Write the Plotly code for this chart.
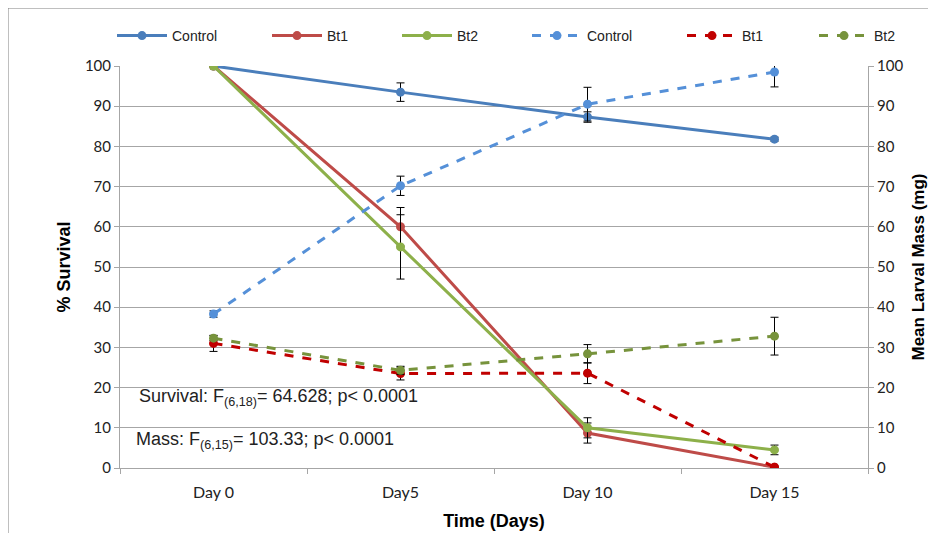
import plotly.graph_objects as go

days = ["Day 0", "Day5", "Day 10", "Day 15"]

surv_control = [100, 93.5, 87.3, 81.8]
surv_control_err = [0, 2.3, 1.3, 0.5]
surv_bt1 = [100, 60.0, 8.7, 0.2]
surv_bt1_err = [0, 4.8, 2.5, 0]
surv_bt2 = [100, 55.0, 10.0, 4.5]
surv_bt2_err = [0, 8.0, 2.5, 1.2]

mass_control = [38.3, 70.2, 90.5, 98.5]
mass_control_err = [0.8, 2.4, 4.2, 3.7]
mass_bt1 = [31.0, 23.5, 23.6, 0.2]
mass_bt1_err = [2.0, 1.6, 2.6, 0]
mass_bt2 = [32.3, 24.3, 28.4, 32.8]
mass_bt2_err = [0.6, 1.0, 2.3, 4.7]

fig = go.Figure()

def add(name, y, err, color, dash, axis, legend):
    fig.add_trace(go.Scatter(
        x=days, y=y, name=name, yaxis=axis, legend=legend,
        mode="lines+markers",
        line=dict(color=color, width=3, dash=dash),
        marker=dict(color=color, size=9),
        error_y=dict(type="data", array=err, visible=True,
                     color="black", thickness=1, width=4),
    ))

add("Control", surv_control, surv_control_err, "#4A7EBB", "solid", "y", "legend")
add("Bt1", surv_bt1, surv_bt1_err, "#BE4B48", "solid", "y", "legend2")
add("Bt2", surv_bt2, surv_bt2_err, "#8DB04A", "solid", "y", "legend3")
add("Control", mass_control, mass_control_err, "#5590D8", "dash", "y2", "legend4")
add("Bt1", mass_bt1, mass_bt1_err, "#C00000", "dash", "y2", "legend5")
add("Bt2", mass_bt2, mass_bt2_err, "#77933C", "dash", "y2", "legend6")

ytickfont = dict(family="Lato, Noto Sans, sans-serif", size=15, color="#222")
xtickfont = dict(family="Lato, Noto Sans, sans-serif", size=16, color="#222")
titlefont = dict(family="Liberation Sans, Arial, sans-serif", size=18, color="black", weight="bold")
rtitlefont = dict(family="Liberation Sans, Arial, sans-serif", size=17, color="black", weight="bold")
legfont = dict(family="Liberation Sans, Arial, sans-serif", size=14, color="#222")

# page is offset by 8px body margin: figure coords = screen coords - 8
ML, MR, MT, MB = 112, 76, 58, 73
PW = 936 - ML - MR
PH = 533 - MT - MB

def legend_at(screen_line_start):
    px = screen_line_start - 14
    return dict(orientation="h", x=(px - ML) / PW, y=1 + (MT - 28) / PH, xref="paper", yref="paper",
                xanchor="left", yanchor="middle",
                font=legfont, bgcolor="rgba(0,0,0,0)", itemwidth=50)

fig.update_layout(
    width=936, height=533,
    margin=dict(l=ML, r=MR, t=MT, b=MB, autoexpand=False),
    paper_bgcolor="white", plot_bgcolor="white",
    showlegend=True,
    legend=legend_at(118),
    legend2=legend_at(273),
    legend3=legend_at(403),
    legend4=legend_at(533),
    legend5=legend_at(688),
    legend6=legend_at(820),
    xaxis=dict(type="category", showgrid=False, showline=True, linecolor="#A6A6A6", linewidth=1,
               ticks="outside", tickson="boundaries", ticklen=5, tickcolor="#A6A6A6",
               tickfont=xtickfont, range=[-0.5, 3.5], automargin=False, ticklabelstandoff=10,
               title=dict(text="Time (Days)", font=titlefont, standoff=14)),
    yaxis=dict(range=[0, 100], dtick=10, showgrid=True, gridcolor="#A6A6A6", gridwidth=1,
               showline=True, linecolor="#A6A6A6", linewidth=1,
               ticks="outside", ticklen=5, tickcolor="#A6A6A6", tickfont=ytickfont,
               zeroline=False, automargin=False,
               title=dict(text="% Survival", font=titlefont, standoff=9)),
    yaxis2=dict(range=[0, 100], dtick=10, overlaying="y", side="right", showgrid=False,
                showline=True, linecolor="#A6A6A6", linewidth=1,
                ticks="outside", ticklen=5, tickcolor="#A6A6A6", tickfont=ytickfont,
                zeroline=False, automargin=False,
                title=dict(text="Mean Larval Mass (mg)", font=rtitlefont, standoff=9)),
)

fig.add_annotation(xref="paper", yref="paper", x=(129 - ML) / PW, y=(460 - 389) / PH,
                   xanchor="left", yanchor="middle",
                   text="Survival: F<sub>(6,18)</sub>= 64.628; p< 0.0001", showarrow=False,
                   font=dict(family="Liberation Sans, Arial, sans-serif", size=18, color="#222"))
fig.add_annotation(xref="paper", yref="paper", x=(126 - ML) / PW, y=(460 - 432) / PH,
                   xanchor="left", yanchor="middle",
                   text="Mass: F<sub>(6,15)</sub>= 103.33; p< 0.0001", showarrow=False,
                   font=dict(family="Liberation Sans, Arial, sans-serif", size=18, color="#222"))

# outer chart frame (figure edge)
fig.add_shape(type="rect", xref="paper", yref="paper",
              x0=-ML / PW, x1=1.2, y0=-0.3, y1=1 + MT / PH,
              line=dict(color="#808080", width=1), fillcolor="rgba(0,0,0,0)", layer="below")

fig.write_html("out.html")
